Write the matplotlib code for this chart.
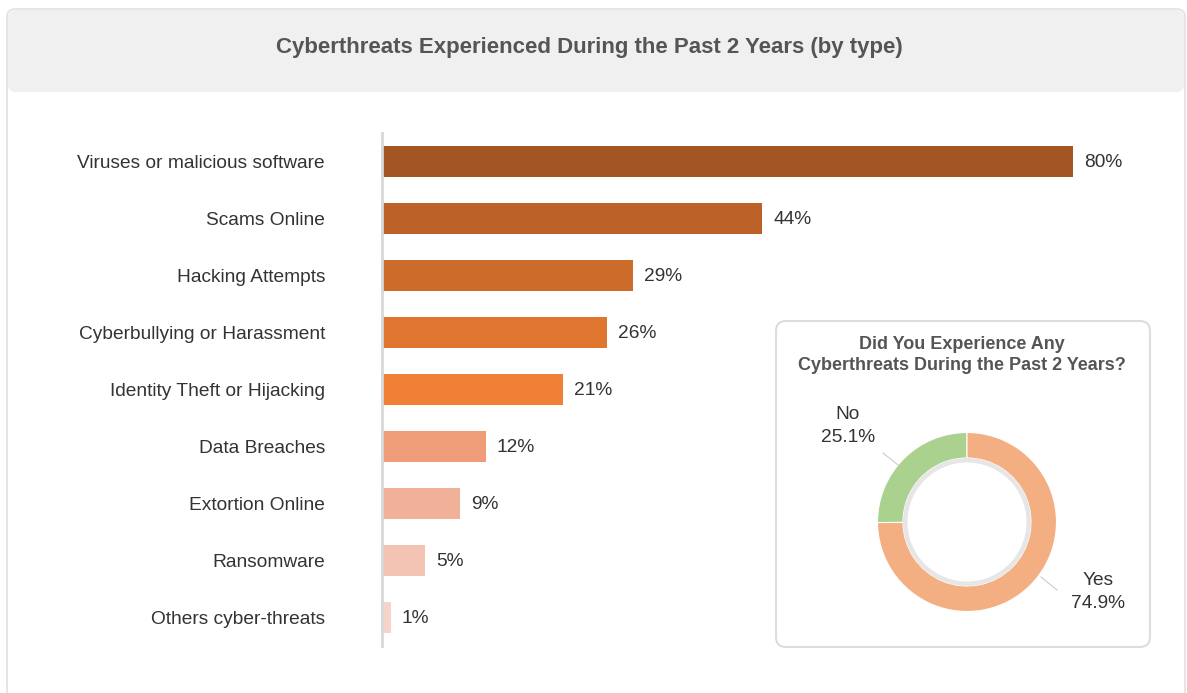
import matplotlib
matplotlib.use('Agg')
import matplotlib.pyplot as plt
from matplotlib.patches import FancyBboxPatch, Circle

plt.rcParams['font.family'] = ['Liberation Sans', 'DejaVu Sans']

# data
categories = ['Viruses or malicious software', 'Scams Online', 'Hacking Attempts',
              'Cyberbullying or Harassment', 'Identity Theft or Hijacking', 'Data Breaches',
              'Extortion Online', 'Ransomware', 'Others cyber-threats']
values = [80, 44, 29, 26, 21, 12, 9, 5, 1]
bar_colors = ['#A35624', '#BC6128', '#CD6B2B', '#E07530', '#EF8035',
              '#EF9C78', '#F1B098', '#F3C4B4', '#F6D4CA']

pie_labels = ['No', 'Yes']
pie_values = [25.1, 74.9]
pie_colors = ['#ABD18E', '#F3AF82']

W, H = 1187, 693
fig = plt.figure(figsize=(W / 100, H / 100), dpi=100)

# background card (pixel coords)
bg = fig.add_axes([0, 0, 1, 1])
bg.set_xlim(0, W)
bg.set_ylim(H, 0)
bg.axis('off')
bg.add_patch(FancyBboxPatch((7, 9), 1178, 700, boxstyle='round,pad=0,rounding_size=8',
                            fc='white', ec='#e2e2e2', lw=1.2))
bg.add_patch(FancyBboxPatch((8, 10), 1176, 82, boxstyle='round,pad=0,rounding_size=8',
                            fc='#f0f0f0', ec='none'))
bg.text(589, 48, 'Cyberthreats Experienced During the Past 2 Years (by type)',
        ha='center', va='center', fontsize=16, fontweight='bold', color='#555555')
# inset card for donut
bg.add_patch(FancyBboxPatch((776, 321), 374, 326, boxstyle='round,pad=0,rounding_size=10',
                            fc='white', ec='#dddddd', lw=1.5))
bg.text(962, 355, 'Did You Experience Any\nCyberthreats During the Past 2 Years?',
        ha='center', va='center', fontsize=13, fontweight='bold', color='#555555',
        linespacing=1.35)

# bar chart
ax = fig.add_axes([382 / W, (H - 646) / H, 780 / W, 513 / H])
y = list(range(len(categories)))
ax.barh(y, values, height=0.53, color=bar_colors)
ax.set_xlim(0, 780 / 8.64)
ax.set_ylim(len(categories) - 0.5, -0.5)
ax.set_yticks(y)
ax.set_yticklabels(categories, fontsize=13.8, color='#333333')
ax.tick_params(axis='y', length=0, pad=41)
ax.set_xticks([])
for s in ['top', 'right', 'bottom']:
    ax.spines[s].set_visible(False)
ax.spines['left'].set_color('#d8d8d8')
ax.spines['left'].set_linewidth(2)
ax.patch.set_alpha(0)
for i, v in enumerate(values):
    ax.annotate(f'{v}%', (v, i), xytext=(11, -1), textcoords='offset pixels',
                ha='left', va='center', fontsize=13.8, color='#333333')

# donut
r_px = 89.5
box = 240
pax = fig.add_axes([(967 - box / 2) / W, (H - 522 - box / 2) / H, box / W, box / H])
pax.pie(pie_values, colors=pie_colors, startangle=90, counterclock=True,
        radius=1, wedgeprops=dict(width=0.285, edgecolor='white', linewidth=0.8))
pax.add_patch(Circle((0, 0), 0.715, fc='#e6e6e6', ec='none'))
pax.add_patch(Circle((0, 0), 0.665, fc='white', ec='none'))
lim = box / 2 / r_px
pax.set_xlim(-lim, lim)
pax.set_ylim(-lim, lim)
pax.set_aspect('equal')
pax.axis('off')

def px(x, yy):
    return ((x - 967) / r_px, (522 - yy) / r_px)

pax.plot(*zip(px(883, 453), px(898, 465)), color='#cccccc', lw=0.8, clip_on=False)
pax.plot(*zip(px(1041, 577), px(1057, 590)), color='#cccccc', lw=0.8, clip_on=False)
pax.text(*px(848, 426), f'{pie_labels[0]}\n{pie_values[0]}%', ha='center', va='center',
         fontsize=13.8, color='#333333', clip_on=False, linespacing=1.45)
pax.text(*px(1098, 592), f'{pie_labels[1]}\n{pie_values[1]}%', ha='center', va='center',
         fontsize=13.8, color='#333333', clip_on=False, linespacing=1.45)

fig.savefig('out.png', dpi=100)
